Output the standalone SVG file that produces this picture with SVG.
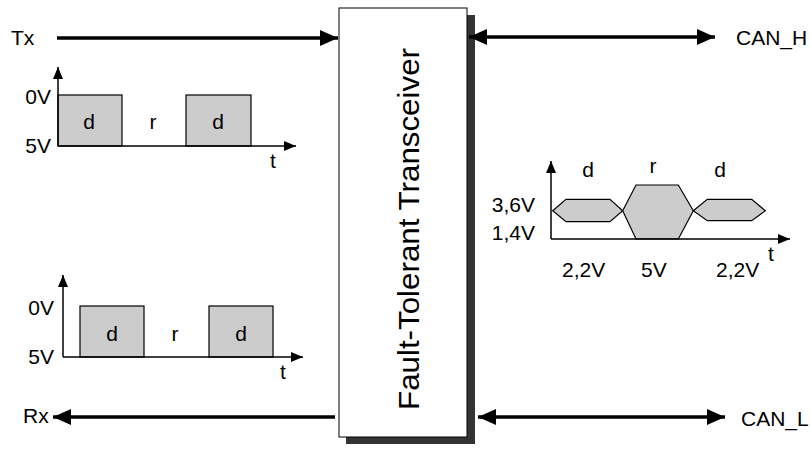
<svg xmlns="http://www.w3.org/2000/svg" width="811" height="452" viewBox="0 0 811 452">
<style>
text{font-family:"Liberation Sans",Arial,sans-serif;font-size:21px;fill:#000}
.ax{stroke:#000;stroke-width:1.5;fill:none;marker-end:url(#ah)}
.sig{fill:#cccccc;stroke:#000;stroke-width:1.2}
.bus{stroke:#000;stroke-width:3.5;fill:none}
.m{text-anchor:middle}
.e{text-anchor:end}
</style>
<defs>
<marker id="big" markerUnits="userSpaceOnUse" markerWidth="18" markerHeight="16" refX="18" refY="8" orient="auto-start-reverse"><path d="M0,0 L18,8 L0,16 z" fill="#000"/></marker>
<marker id="ah" markerUnits="userSpaceOnUse" markerWidth="12" markerHeight="10" refX="12" refY="5" orient="auto"><path d="M0,0 L12,5 L0,10 z" fill="#000"/></marker>
</defs>
<g id="transceiver">
<rect x="346" y="15" width="129" height="429" fill="#333"/>
<rect x="339" y="8" width="128" height="429" fill="#fff" stroke="#000" stroke-width="1"/>
<text class="m" transform="translate(419,229) rotate(-90)" style="font-size:30px" textLength="362" lengthAdjust="spacingAndGlyphs">Fault-Tolerant Transceiver</text>
</g>
<g id="connectors">
<line class="bus" x1="57" y1="38" x2="338" y2="38" marker-end="url(#big)"/>
<line class="bus" x1="335" y1="417" x2="53" y2="417" marker-end="url(#big)"/>
<line class="bus" x1="469" y1="37" x2="715" y2="37" marker-start="url(#big)" marker-end="url(#big)"/>
<line class="bus" x1="478" y1="417" x2="725" y2="417" marker-start="url(#big)" marker-end="url(#big)"/>
</g>
<g id="tx-label"><text x="11" y="45">Tx</text></g>
<g id="rx-label"><text x="23" y="423">Rx</text></g>
<g id="canh-label"><text x="736" y="45">CAN_H</text></g>
<g id="canl-label"><text x="741" y="426">CAN_L</text></g>
<g id="tx-chart">
<rect class="sig" x="58" y="95" width="64" height="51"/>
<rect class="sig" x="186" y="95" width="65" height="51"/>
<line class="ax" x1="58" y1="146" x2="58" y2="67"/>
<line class="ax" x1="58" y1="146" x2="296" y2="146"/>
<text class="e" x="51" y="104">0V</text>
<text class="e" x="51" y="153">5V</text>
<text class="m" x="89" y="129">d</text>
<text class="m" x="153" y="129">r</text>
<text class="m" x="218" y="129">d</text>
<text x="270" y="168">t</text>
</g>
<g id="rx-chart">
<rect class="sig" x="80" y="306" width="64" height="51"/>
<rect class="sig" x="209" y="306" width="64" height="51"/>
<line class="ax" x1="63" y1="357" x2="63" y2="275"/>
<line class="ax" x1="63" y1="357" x2="303" y2="357"/>
<text class="e" x="54" y="315">0V</text>
<text class="e" x="54" y="364">5V</text>
<text class="m" x="112" y="341">d</text>
<text class="m" x="175" y="341">r</text>
<text class="m" x="241" y="341">d</text>
<text x="280" y="379">t</text>
</g>
<g id="can-chart">
<polygon class="sig" points="552.7,210.7 566,199.3 610,199.3 622.7,210.7 610,221.7 566,221.7"/>
<polygon class="sig" points="622.7,210.7 636,185 678.3,185 693.3,210.7 678.3,239 636,239"/>
<polygon class="sig" points="693.3,210.7 707.3,199.3 751.7,199.3 765.3,210.7 751.7,220.7 707.3,220.7"/>
<line class="ax" x1="551" y1="239" x2="551" y2="161"/>
<line class="ax" x1="551" y1="239" x2="790" y2="239"/>
<text class="e" x="535" y="212">3,6V</text>
<text class="e" x="535" y="240">1,4V</text>
<text class="m" x="588" y="177">d</text>
<text class="m" x="653" y="173">r</text>
<text class="m" x="720" y="177">d</text>
<text x="562" y="277">2,2V</text>
<text x="641" y="277">5V</text>
<text x="716" y="277">2,2V</text>
<text x="768" y="261">t</text>
</g>
</svg>
